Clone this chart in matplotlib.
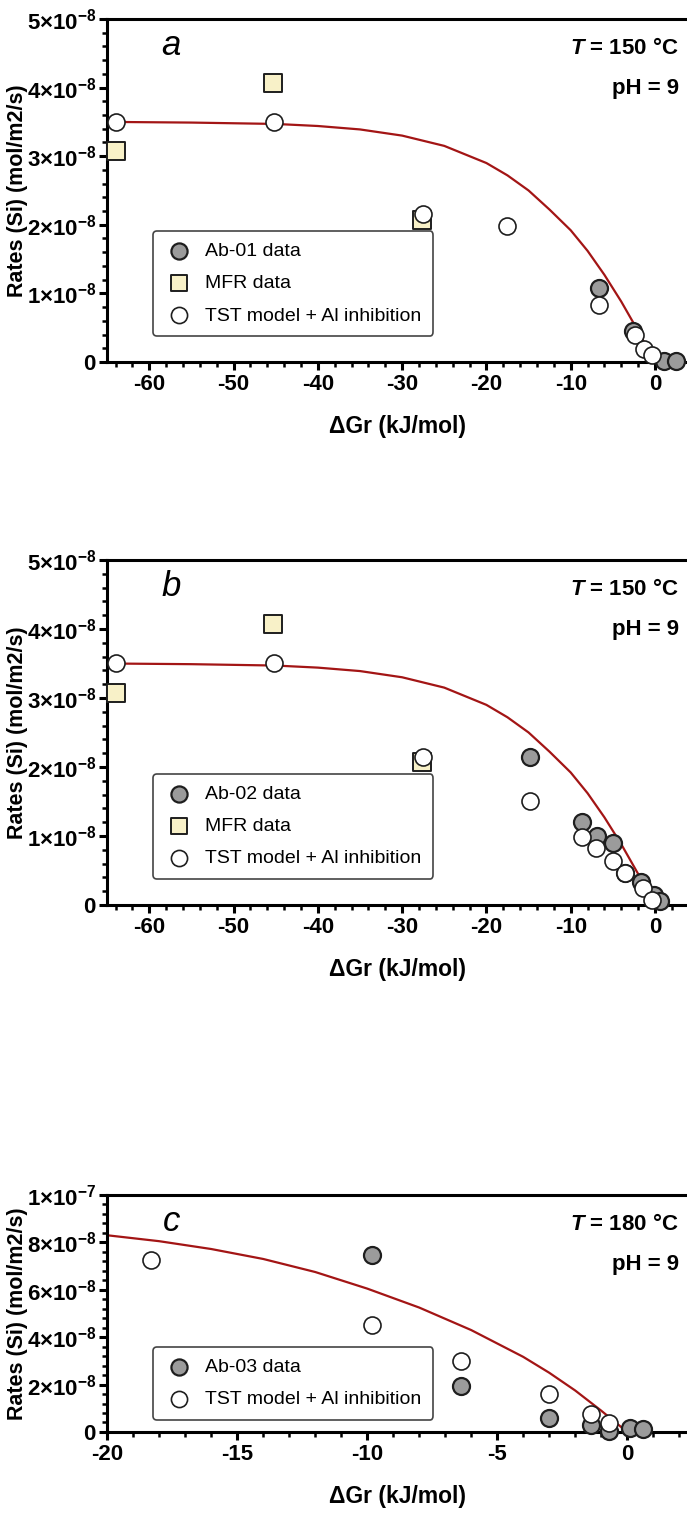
import math
import matplotlib
matplotlib.use("Agg")
import matplotlib.pyplot as plt
from matplotlib.ticker import MultipleLocator, FuncFormatter

plt.rcParams['font.family'] = ['Liberation Sans', 'DejaVu Sans']
plt.rcParams['mathtext.fontset'] = 'custom'
plt.rcParams['mathtext.rm'] = 'Liberation Sans'
plt.rcParams['mathtext.it'] = 'Liberation Sans:italic'
plt.rcParams['mathtext.bf'] = 'Liberation Sans:bold'
plt.rcParams['mathtext.bfit'] = 'Liberation Sans:italic:bold'
plt.rcParams['axes.unicode_minus'] = False

# ---- data, rates in mol/m2/s ----
# panel a, T = 150 C
a_ab_dg = [-6.7, -2.6, 1.1, 2.5]
a_ab_r = [1.08e-8, 0.45e-8, 0.02e-8, 0.02e-8]
a_tst_dg = [-64.0, -45.2, -27.5, -17.6, -6.7, -2.4, -1.3, -0.4]
a_tst_r = [3.5e-8, 3.5e-8, 2.15e-8, 1.98e-8, 0.83e-8, 0.40e-8, 0.19e-8, 0.10e-8]

# MFR data (same in a and b)
mfr_dg = [-64.0, -45.3, -27.6]
mfr_r = [3.07e-8, 4.07e-8, 2.07e-8]

# model curve used in a and b
curve_ab_dg = [-65, -55, -45, -40, -35, -30, -25, -20, -17.5, -15, -12.5, -10, -8, -6, -4, -2, -1, 0]
curve_ab_r = [3.5e-8, 3.49e-8, 3.47e-8, 3.44e-8, 3.39e-8, 3.3e-8, 3.15e-8, 2.9e-8, 2.72e-8,
              2.5e-8, 2.22e-8, 1.92e-8, 1.62e-8, 1.27e-8, 0.88e-8, 0.45e-8, 0.22e-8, 0.0]

# panel b, T = 150 C
b_ab_dg = [-14.8, -8.6, -6.9, -5.0, -3.6, -1.6, -0.1, 0.6]
b_ab_r = [2.15e-8, 1.2e-8, 1.0e-8, 0.9e-8, 0.47e-8, 0.33e-8, 0.15e-8, 0.05e-8]
b_tst_dg = [-64.0, -45.2, -27.5, -14.8, -8.6, -7.0, -5.0, -3.6, -1.4, -0.3]
b_tst_r = [3.5e-8, 3.5e-8, 2.15e-8, 1.5e-8, 0.98e-8, 0.82e-8, 0.63e-8, 0.46e-8, 0.25e-8, 0.07e-8]

# panel c, T = 180 C
c_ab_dg = [-9.8, -6.4, -3.0, -1.4, -0.7, 0.1, 0.6]
c_ab_r = [7.45e-8, 1.92e-8, 0.6e-8, 0.28e-8, 0.06e-8, 0.15e-8, 0.12e-8]
c_tst_dg = [-18.3, -9.8, -6.4, -3.0, -1.4, -0.7]
c_tst_r = [7.25e-8, 4.5e-8, 3.0e-8, 1.6e-8, 0.75e-8, 0.38e-8]
curve_c_dg = [-20, -18, -16, -14, -12, -10, -8, -6, -4, -3, -2, -1, 0]
curve_c_r = [8.3e-8, 8.05e-8, 7.72e-8, 7.3e-8, 6.75e-8, 6.05e-8, 5.25e-8, 4.3e-8,
             3.17e-8, 2.5e-8, 1.75e-8, 0.9e-8, 0.0]

GRAY = '#9b9b9b'
CREAM = '#f8f1c8'
EDGE = '#1e1e1e'
RED = '#a31515'


def sci_fmt(v, pos):
    if abs(v) < 1e-15:
        return r'$\mathbf{0}$'
    e = int(math.floor(math.log10(abs(v)) + 1e-9))
    m = v / 10 ** e
    return r'$\mathbf{%d{\times}10^{%d}}$' % (round(m), e)


def style_axes(ax, xlim, ylim, xmaj, xmin, ymaj, ymin):
    ax.set_xlim(*xlim)
    ax.set_ylim(*ylim)
    ax.xaxis.set_major_locator(MultipleLocator(xmaj))
    ax.xaxis.set_minor_locator(MultipleLocator(xmin))
    ax.yaxis.set_major_locator(MultipleLocator(ymaj))
    ax.yaxis.set_minor_locator(MultipleLocator(ymin))
    ax.yaxis.set_major_formatter(FuncFormatter(sci_fmt))
    ax.spines['right'].set_visible(False)
    for s in ['left', 'bottom', 'top']:
        ax.spines[s].set_linewidth(2.2)
    ax.tick_params(which='major', direction='out', length=6, width=2.2, labelsize=16, pad=1.5)
    ax.tick_params(which='minor', direction='out', length=3.5, width=1.8)
    ax.tick_params(axis='x', which='major', pad=3)
    ax.tick_params(top=False, right=False, which='both')
    for lab in ax.get_xticklabels():
        lab.set_fontweight('bold')
    ax.set_xlabel('ΔGr (kJ/mol)', fontsize=16.5, fontweight='bold', labelpad=14)
    ax.set_ylabel('Rates (Si) (mol/m2/s)', fontsize=15.5, fontweight='bold')
    ax.yaxis.set_label_coords(-0.137, 0.5)


def annotate(ax, letter, temp):
    ax.annotate(letter, xy=(0, 1), xycoords='axes fraction', xytext=(46, -19),
                textcoords='offset points', fontsize=25, style='italic',
                ha='center', va='center')
    ax.annotate(r'$\boldsymbol{T}$ = %s °C' % temp, xy=(1, 1), xycoords='axes fraction',
                xytext=(-6, -21), textcoords='offset points', fontsize=16,
                fontweight='bold', ha='right', va='center')
    ax.annotate('pH = 9', xy=(1, 1), xycoords='axes fraction',
                xytext=(-6, -50), textcoords='offset points', fontsize=16,
                fontweight='bold', ha='right', va='center')


fig = plt.figure(figsize=(6.87, 15.33), dpi=100)
ax_a = fig.add_axes([0.156, 0.7639, 0.844, 0.2237])
ax_b = fig.add_axes([0.156, 0.4097, 0.844, 0.2250])
ax_c = fig.add_axes([0.156, 0.0659, 0.844, 0.1546])

ms = 150

# panel a
ax_a.plot(curve_ab_dg, curve_ab_r, color=RED, lw=1.6, zorder=2)
ax_a.scatter(a_ab_dg, a_ab_r, s=ms, c=GRAY, edgecolors=EDGE, linewidths=1.6, zorder=4, clip_on=False, label='Ab-01 data')
ax_a.scatter(mfr_dg, mfr_r, s=ms, marker='s', c=CREAM, edgecolors=EDGE, linewidths=1.4, zorder=3, clip_on=False, label='MFR data')
ax_a.scatter(a_tst_dg, a_tst_r, s=ms, c='white', edgecolors=EDGE, linewidths=1.2, zorder=5, clip_on=False, label='TST model + Al inhibition')
style_axes(ax_a, (-65, 3.8), (0, 5e-8), 10, 2, 1e-8, 0.2e-8)
annotate(ax_a, 'a', '150')

# panel b
ax_b.plot(curve_ab_dg, curve_ab_r, color=RED, lw=1.6, zorder=2)
ax_b.scatter(b_ab_dg, b_ab_r, s=ms, c=GRAY, edgecolors=EDGE, linewidths=1.6, zorder=4, clip_on=False, label='Ab-02 data')
ax_b.scatter(mfr_dg, mfr_r, s=ms, marker='s', c=CREAM, edgecolors=EDGE, linewidths=1.4, zorder=3, clip_on=False, label='MFR data')
ax_b.scatter(b_tst_dg, b_tst_r, s=ms, c='white', edgecolors=EDGE, linewidths=1.2, zorder=5, clip_on=False, label='TST model + Al inhibition')
style_axes(ax_b, (-65, 3.8), (0, 5e-8), 10, 2, 1e-8, 0.2e-8)
annotate(ax_b, 'b', '150')

# panel c
ax_c.plot(curve_c_dg, curve_c_r, color=RED, lw=1.6, zorder=2)
ax_c.scatter(c_ab_dg, c_ab_r, s=ms, c=GRAY, edgecolors=EDGE, linewidths=1.6, zorder=4, clip_on=False, label='Ab-03 data')
ax_c.scatter(c_tst_dg, c_tst_r, s=ms, c='white', edgecolors=EDGE, linewidths=1.2, zorder=5, clip_on=False, label='TST model + Al inhibition')
style_axes(ax_c, (-20, 2.3), (0, 1e-7), 5, 1, 2e-8, 0.4e-8)
annotate(ax_c, 'c', '180')

for ax, yb in [(ax_a, 0.075), (ax_b, 0.075), (ax_c, 0.05)]:
    leg = ax.legend(loc='lower left', bbox_to_anchor=(0.079, yb), fontsize=14,
                    frameon=True, fancybox=True, framealpha=1, edgecolor='#444444',
                    handletextpad=0.6, labelspacing=0.75, borderpad=0.6,
                    borderaxespad=0, markerscale=0.95, handlelength=1.5)
    leg.get_frame().set_linewidth(1.2)
    leg.set_zorder(1)

fig.savefig('out.png', dpi=100)
